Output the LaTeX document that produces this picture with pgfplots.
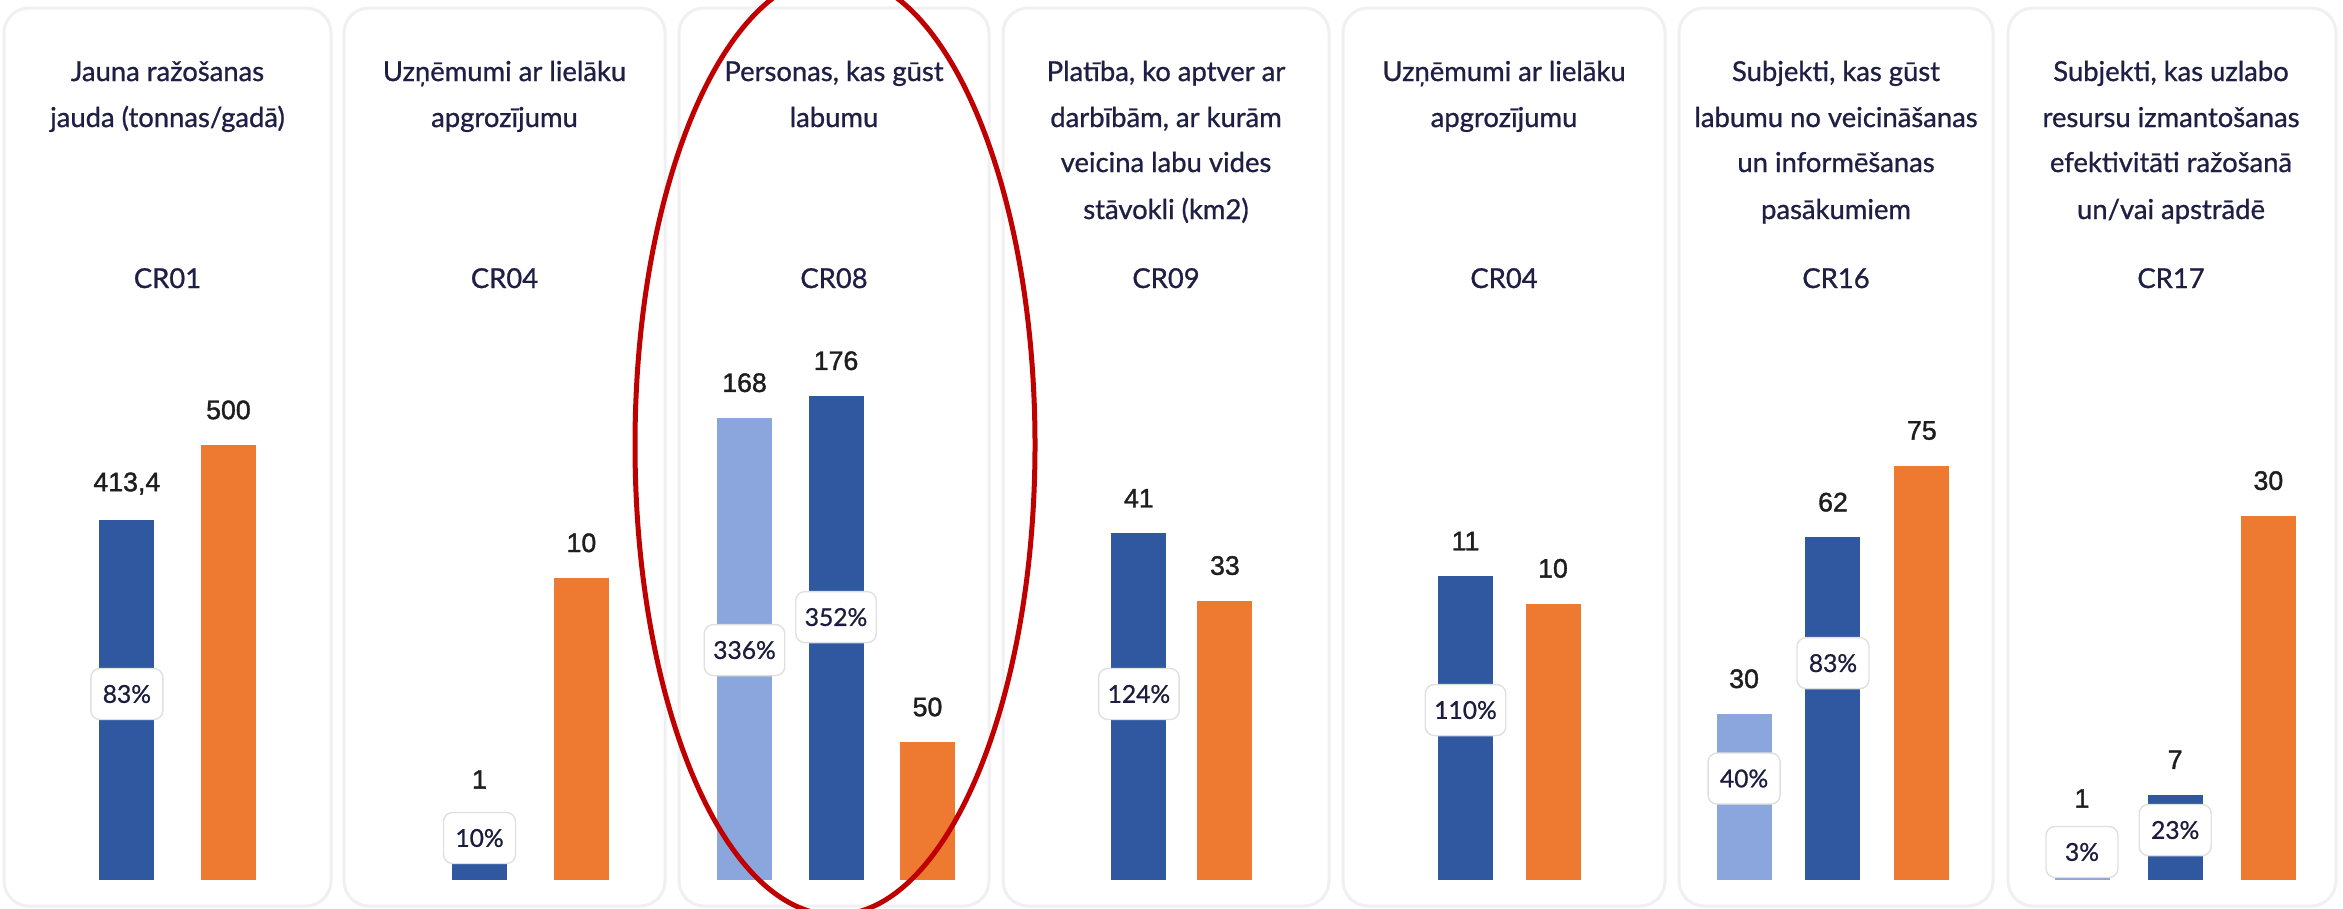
\documentclass[border=0pt]{standalone}
\usepackage{fontspec}
\setmainfont{Lato}
\newfontfamily\numfont[FakeBold=1.4]{Liberation Sans}
\newfontfamily\titlefam[FakeBold=0.9]{Lato}
\newfontfamily\pctfam[FakeBold=0.9]{Lato}
\usepackage{pgfplots}
\pgfplotsset{compat=1.18}

\definecolor{dblue}{HTML}{2F58A0}
\definecolor{lblue}{HTML}{8AA6DC}
\definecolor{orng}{HTML}{ED7A30}
\definecolor{navy}{HTML}{1F1F45}
\definecolor{valc}{HTML}{1E1E1E}
\definecolor{cardb}{HTML}{F0F0F3}
\definecolor{ellred}{HTML}{C00000}

\newcommand{\tfont}{\titlefam\fontsize{7.8}{9}\selectfont}

\pgfplotsset{
  panel/.style={scale only axis, hide axis, clip=false, height=57.95mm, ymin=0, anchor=south west},
  mybar/.style n args={2}{ybar, bar width=5.5mm, bar shift=0pt, draw=none, fill=#1,
    point meta=explicit symbolic, nodes near coords,
    nodes near coords style={font=\numfont\fontsize{7.6}{9}\selectfont, text=valc, anchor=south, inner sep=0pt, yshift=#2}},
  mybar/.default={dblue}{2.5mm},
}
\tikzset{
  pbox/.style={draw=black!12, fill=white, rounded corners=0.9mm, minimum width=7.2mm, minimum height=5.1mm,
    inner xsep=0.9mm, inner ysep=0pt, font=\pctfam\fontsize{7}{8}\selectfont, text=navy!90!black},
  ttl/.style={anchor=base, inner sep=0pt, font=\tfont, text=navy},
}

\begin{document}
\begin{tikzpicture}
\useasboundingbox (0,0) rectangle (234.3mm,90.8mm);
\fill[white] (0,0) rectangle (234.3mm,90.8mm);
\begin{scope}[x=0.1mm,y=-0.1mm,yshift=90.8mm]
  \foreach \a/\b in {4/331,344/665,679/989,1003/1329,1343/1665,1679/1993,2008/2336}
    \draw[cardb, line width=0.3mm, fill=white, rounded corners=2.5mm] (\a,8) rectangle (\b,906);
  % titles
  \node[ttl] at (167.5,81) {Jauna ražošanas};
  \node[ttl] at (167.5,127) {jauda (tonnas/gadā)};
  \node[ttl] at (504.5,81) {Uzņēmumi ar lielāku};
  \node[ttl] at (504.5,127) {apgrozījumu};
  \node[ttl] at (834,81) {Personas, kas gūst};
  \node[ttl] at (834,127) {labumu};
  \node[ttl] at (1166,81) {Platība, ko aptver ar};
  \node[ttl] at (1166,127) {darbībām, ar kurām};
  \node[ttl] at (1166,172) {veicina labu vides};
  \node[ttl] at (1166,219) {stāvokli (km2)};
  \node[ttl] at (1504,81) {Uzņēmumi ar lielāku};
  \node[ttl] at (1504,127) {apgrozījumu};
  \node[ttl] at (1836,81) {Subjekti, kas gūst};
  \node[ttl] at (1836,127) {labumu no veicināšanas};
  \node[ttl] at (1836,172) {un informēšanas};
  \node[ttl] at (1836,219) {pasākumiem};
  \node[ttl] at (2171,81) {Subjekti, kas uzlabo};
  \node[ttl] at (2171,127) {resursu izmantošanas};
  \node[ttl] at (2171,172) {efektivitāti ražošanā};
  \node[ttl] at (2171,219) {un/vai apstrādē};
  % codes
  \node[ttl] at (167.5,288) {CR01};
  \node[ttl] at (504.5,288) {CR04};
  \node[ttl] at (834,288) {CR08};
  \node[ttl] at (1166,288) {CR09};
  \node[ttl] at (1504,288) {CR04};
  \node[ttl] at (1836,288) {CR16};
  \node[ttl] at (2171,288) {CR17};
\end{scope}

% Panel 1: CR01
\begin{axis}[panel, at={(0.4mm,2.85mm)}, width=32.7mm, xmin=-1.21, xmax=2.01, ymax=667]
\addplot[mybar={dblue}{2.5mm}] coordinates {(0,413.4) [{413,4}]};
\addplot[mybar={orng}{2.5mm}] coordinates {(1,500) [500]};
\node[pbox] at (axis cs:0,213.5) {83\%};
\end{axis}

% Panel 2: CR04
\begin{axis}[panel, at={(34.4mm,2.85mm)}, width=32.1mm, xmin=-1.33, xmax=1.82, ymax=19.22]
\addplot[mybar={dblue}{6mm}] coordinates {(0,1) [1]};
\addplot[mybar={orng}{2.5mm}] coordinates {(1,10) [10]};
\node[pbox] at (axis cs:0,1.376) {10\%};
\end{axis}

% Panel 3: CR08
\begin{axis}[panel, at={(67.9mm,2.85mm)}, width=31.0mm, xmin=-0.716, xmax=2.672, ymax=210.9]
\addplot[mybar={lblue}{2.5mm}] coordinates {(0,168) [168]};
\addplot[mybar={dblue}{2.5mm}] coordinates {(1,176) [176]};
\addplot[mybar={orng}{2.5mm}] coordinates {(2,50) [50]};
\node[pbox] at (axis cs:0,83.5) {336\%};
\node[pbox] at (axis cs:1,95.5) {352\%};
\end{axis}

% Panel 4: CR09
\begin{axis}[panel, at={(100.3mm,2.85mm)}, width=32.6mm, xmin=-1.58, xmax=2.21, ymax=68.6]
\addplot[mybar={dblue}{2.5mm}] coordinates {(0,41) [41]};
\addplot[mybar={orng}{2.5mm}] coordinates {(1,33) [33]};
\node[pbox] at (axis cs:0,21.96) {124\%};
\end{axis}

% Panel 5: CR04
\begin{axis}[panel, at={(134.3mm,2.85mm)}, width=32.2mm, xmin=-1.40, xmax=2.28, ymax=21.0]
\addplot[mybar={dblue}{2.5mm}] coordinates {(0,11) [11]};
\addplot[mybar={orng}{2.5mm}] coordinates {(1,10) [10]};
\node[pbox] at (axis cs:0,6.14) {110\%};
\end{axis}

% Panel 6: CR16
\begin{axis}[panel, at={(167.9mm,2.85mm)}, width=31.4mm, xmin=-0.732, xmax=2.80, ymax=105]
\addplot[mybar={lblue}{2.5mm}] coordinates {(0,30) [30]};
\addplot[mybar={dblue}{2.5mm}] coordinates {(1,62) [62]};
\addplot[mybar={orng}{2.5mm}] coordinates {(2,75) [75]};
\node[pbox] at (axis cs:0,18.3) {40\%};
\node[pbox] at (axis cs:1,39.2) {83\%};
\end{axis}

% Panel 7: CR17
\begin{axis}[panel, at={(200.8mm,2.85mm)}, width=32.7mm, xmin=-0.794, xmax=2.715, ymax=47.8]
\addplot[mybar={lblue}{5.9mm}] coordinates {(0,1) [1]};
\addplot[mybar={dblue}{2.5mm}] coordinates {(1,7) [7]};
\addplot[mybar={orng}{2.5mm}] coordinates {(2,30) [30]};
\node[pbox] at (axis cs:0,2.27) {3\%};
\node[pbox] at (axis cs:1,4.08) {23\%};
\end{axis}

\begin{scope}[x=0.1mm,y=-0.1mm,yshift=90.8mm]
  \draw[ellred, line width=0.5mm] (835,445) ellipse [x radius=200, y radius=470];
\end{scope}
\end{tikzpicture}
\end{document}
